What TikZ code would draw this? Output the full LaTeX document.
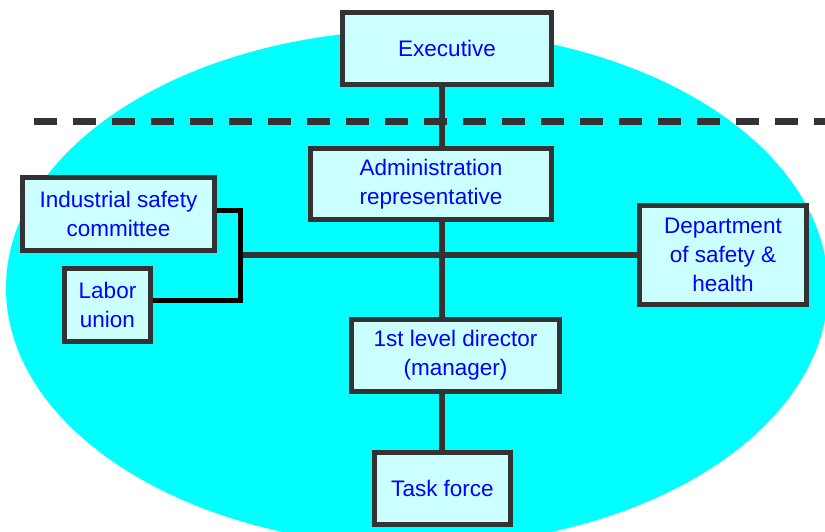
\documentclass[tikz,border=0pt]{standalone}
\usepackage{fontspec}
\setmainfont{Liberation Sans}
\usepackage{tikz}
\usepackage{xcolor}
\usetikzlibrary{positioning}
\definecolor{frame}{RGB}{51,51,51}
\definecolor{boxfill}{RGB}{204,255,255}
\definecolor{textblue}{RGB}{0,0,255}
\definecolor{zone}{RGB}{0,255,255}
\tikzset{unit/.style={draw=frame,line width=5pt,fill=boxfill,text=textblue,align=center,
  font=\fontsize{22.5}{29}\selectfont,inner sep=0pt}}

\begin{document}
\begin{tikzpicture}[x=1pt,y=-1pt]
\clip (0,0) rectangle (825,531);
\useasboundingbox (0,0) rectangle (825,531);
\fill[zone](417,288) ellipse (411pt and 258pt);
\draw[frame,line width=7pt,dash pattern=on 23pt off 16pt](34,121) -- (830,121);
\coordinate (hub) at (442,255);
\coordinate (branch) at (240,255); % joint of the two side boxes.
\node[unit,minimum width=209pt,minimum height=72pt](exec) at (447,48.5) {Executive};
\node[unit,minimum width=241pt,minimum height=71pt](admin) at (431,184) {Administration\\representative};
\node[unit,minimum width=192pt,minimum height=73pt](isc) at (118.5,214) {Industrial safety\\committee};
\node[unit,minimum width=86pt,minimum height=73pt](labor) at (107.5,305) {Labor\\union};
\node[unit,minimum width=167pt,minimum height=99pt](dept) at (723,255) {Department\\of safety \&\\health};
\node[unit,minimum width=208pt,minimum height=72pt](director) at (455.5,355.5) {1st level director\\(manager)};
\node[unit,minimum width=136pt,minimum height=72pt](task) at (442.5,488.5) {Task force};
\draw[frame,line width=5.5pt](exec.south -| hub) -- (admin.north -| hub);
\draw[frame,line width=5.5pt](admin.south -| hub) -- (director.north -| hub);
\draw[frame,line width=5.5pt](director.south -| hub) -- (task.north -| hub);
\draw[frame,line width=6pt](branch) -- (dept.west);
\draw[black,line width=5pt]([yshift=4pt]isc.east) -| (branch) |- ([yshift=5pt]labor.east);
\end{tikzpicture}
\end{document}
